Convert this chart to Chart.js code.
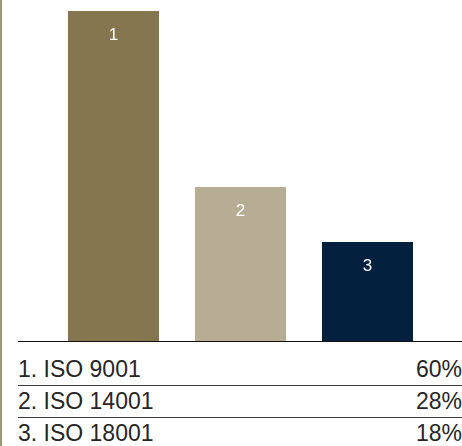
<!DOCTYPE html>
<html>
<head>
<meta charset="utf-8">
<script src="https://cdn.jsdelivr.net/npm/chart.js@4/dist/chart.umd.min.js"></script>
<style>
  body { margin: 0; background: #fff; font-family: "Liberation Sans", Arial, sans-serif; }
  #wrap { position: relative; width: 462px; height: 446px; overflow: hidden; }
  #rule { position: absolute; left: 0; top: 0; width: 2px; height: 446px; background: #a09678; }
  #legend { margin-left: 18px; border-top: 1px solid #111; padding-top: 12px; }
  .row { display: flex; justify-content: space-between; height: 31px; line-height: 31px;
         border-bottom: 1px solid #3a3a3a; font-size: 23px; color: #262626; }
</style>
</head>
<body>
<div id="wrap">
  <div id="rule"></div>
  <canvas id="graficBar" width="462" height="341"></canvas>
  <div id="legend"></div>
</div>
<script>
var numbers = ['1', '2', '3'];
var certs = ['ISO 9001', 'ISO 14001', 'ISO 18001'];
var shares = [60, 28, 18];
var colors = ['#867650', '#b7ad94', '#03203f'];

// numero bianco dentro ogni barra
var barNumbers = {
  id: 'barNumbers',
  afterDatasetsDraw: function(chart) {
    var ctx = chart.ctx;
    var meta = chart.getDatasetMeta(0);
    ctx.save();
    ctx.fillStyle = '#fff';
    ctx.font = '17px "Liberation Sans", Arial, sans-serif';
    ctx.textAlign = 'center';
    ctx.textBaseline = 'middle';
    meta.data.forEach(function(bar, i) {
      ctx.fillText(numbers[i], bar.x, bar.y + 24);
    });
    ctx.restore();
  }
};

var grafic = document.getElementById('graficBar');

var chart = new Chart(grafic, {
  type: 'bar',
  data: {
    labels: numbers,
    datasets: [{
      data: shares,
      backgroundColor: colors,
      borderWidth: 0,
      categoryPercentage: 1,
      barPercentage: 0.717
    }]
  },
  options: {
    responsive: false,
    animation: false,
    layout: { padding: { left: 50, right: 31, top: 0, bottom: 0 } },
    plugins: { legend: { display: false }, tooltip: { enabled: false } },
    scales: {
      x: { display: false },
      y: { display: false, min: 0, max: 62 }
    }
  },
  plugins: [barNumbers]
});

// righe sotto il grafico
var legend = document.getElementById('legend');
certs.forEach(function(name, i) {
  var row = document.createElement('div');
  row.className = 'row';
  var left = document.createElement('span');
  left.textContent = numbers[i] + '. ' + name;
  var right = document.createElement('span');
  right.textContent = shares[i] + '%';
  row.appendChild(left);
  row.appendChild(right);
  legend.appendChild(row);
});
</script>
</body>
</html>
